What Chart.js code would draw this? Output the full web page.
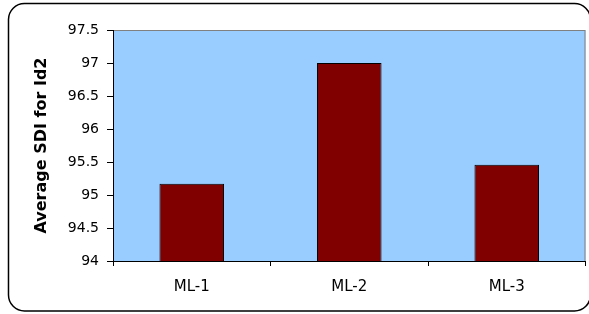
<!DOCTYPE html>
<html>
<head>
<meta charset="utf-8">
<script src="https://cdn.jsdelivr.net/npm/chart.js@4/dist/chart.umd.min.js"></script>
<style>
html,body{margin:0;padding:0;background:#fff;}
#wrap{width:589px;height:314px;position:relative;}
</style>
</head>
<body>
<div id="wrap"><canvas id="c" width="589" height="314"></canvas></div>
<script>
const categories = ["ML-1", "ML-2", "ML-3"];
const sdiValues = [95.17, 97.0, 95.46];
const yAxisTitle = "Average SDI for Id2";
const yMin = 94, yMax = 97.5, yStep = 0.5;

const frame = {
  id: 'frame',
  beforeDraw(chart) {
    const ctx = chart.ctx, a = chart.chartArea;
    ctx.save();
    ctx.fillStyle = '#fff';
    ctx.fillRect(0, 0, chart.width, chart.height);
    ctx.beginPath();
    ctx.lineWidth = 1.5;
    ctx.strokeStyle = '#000';
    ctx.roundRect(8.5, 3.5, 582, 307.5, 16);
    ctx.stroke();
    ctx.fillStyle = '#99CCFF';
    ctx.fillRect(a.left, a.top, a.right - a.left, a.bottom - a.top);
    ctx.strokeStyle = '#808080';
    ctx.lineWidth = 1;
    ctx.strokeRect(a.left + 0.5, a.top + 0.5, a.right - a.left - 1, a.bottom - a.top);
    ctx.restore();
  }
};

new Chart(document.getElementById('c'), {
  type: 'bar',
  data: {
    labels: categories,
    datasets: [{
      data: sdiValues,
      backgroundColor: '#800000',
      borderColor: '#000',
      borderWidth: 1,
      categoryPercentage: 1,
      barPercentage: 0.41
    }]
  },
  options: {
    responsive: false,
    animation: false,
    devicePixelRatio: 1,
    layout: { padding: { left: 28, top: 30, right: 3.5, bottom: 13 } },
    plugins: { legend: { display: false }, tooltip: { enabled: false } },
    scales: {
      x: {
        grid: { display: true, drawOnChartArea: false, drawTicks: true, tickLength: 5, color: '#000', offset: true },
        border: { display: true, color: '#000', width: 1 },
        ticks: { color: '#000', padding: 12, font: { family: 'DejaVu Sans', size: 15 } },
        afterFit(s) { s.height = 40; }
      },
      y: {
        min: yMin, max: yMax,
        grid: { display: true, drawOnChartArea: false, drawTicks: true, tickLength: 6, color: '#000' },
        border: { display: true, color: '#000', width: 1 },
        ticks: { stepSize: yStep, color: '#000', padding: 8, font: { family: 'DejaVu Sans', size: 14 },
                 callback: v => String(+Number(v).toFixed(1)) },
        title: { display: true, text: yAxisTitle, color: '#000', font: { family: 'DejaVu Sans', size: 16, weight: 'bold' } },
        afterFit(s) { s.width = 85; }
      }
    }
  },
  plugins: [frame]
});
</script>
</body>
</html>
